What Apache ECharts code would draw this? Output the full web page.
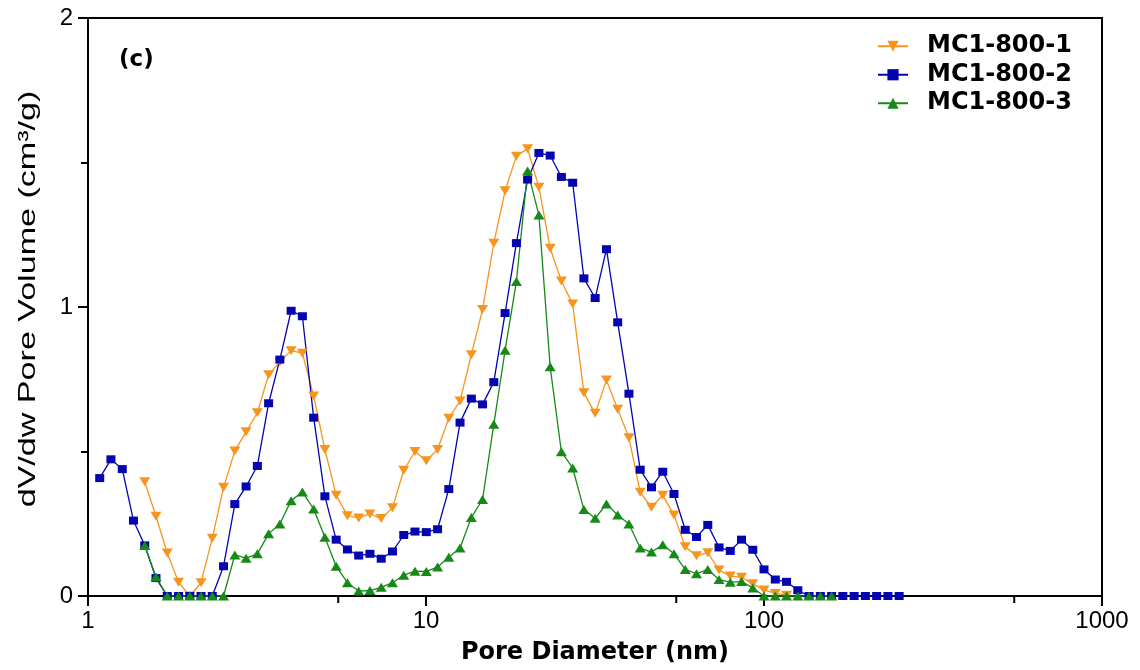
<!DOCTYPE html>
<html>
<head>
<meta charset="utf-8">
<script src="https://cdn.jsdelivr.net/npm/echarts@6/dist/echarts.min.js"></script>
<style>
  html, body { margin: 0; padding: 0; background: #fff; }
  #chart { width: 1140px; height: 670px; }
</style>
</head>
<body>
<div id="chart"></div>
<script>
// Pore diameters (nm) shared by the three samples
const diameters = [1.083, 1.169, 1.263, 1.363, 1.472, 1.589, 1.716, 1.853, 2.001, 2.160,
  2.332, 2.518, 2.719, 2.936, 3.170, 3.423, 3.695, 3.990, 4.308, 4.652,
  5.022, 5.423, 5.855, 6.322, 6.826, 7.371, 7.958, 8.593, 9.278, 10.02,
  10.82, 11.68, 12.61, 13.62, 14.70, 15.87, 17.14, 18.51, 19.98, 21.58,
  23.30, 25.15, 27.16, 29.32, 31.66, 34.19, 36.91, 39.85, 43.03, 46.46,
  50.17, 54.16, 58.48, 63.14, 68.18, 73.61, 79.48, 85.81, 92.65, 100.0,
  108.0, 116.6, 125.9, 135.9, 146.8, 158.5, 171.1, 184.8, 199.5, 215.4,
  232.6, 251.1];

// dV/dw pore volume (cm3/g); null where a sample has no point
const mc1_800_1 = [null, null, null, null, 0.395, 0.276, 0.149, 0.048, 0, 0.046,
  0.2, 0.376, 0.502, 0.568, 0.634, 0.766, 0.81, 0.849, 0.84, 0.692,
  0.507, 0.349, 0.278, 0.27, 0.284, 0.268, 0.305, 0.435, 0.5, 0.468,
  0.507, 0.615, 0.675, 0.835, 0.991, 1.221, 1.402, 1.522, 1.548, 1.414,
  1.203, 1.09, 1.01, 0.703, 0.632, 0.747, 0.646, 0.548, 0.359, 0.307,
  0.349, 0.28, 0.17, 0.139, 0.15, 0.09, 0.069, 0.065, 0.042, 0.021,
  0.009, 0.003, null, null, null, null, null, null, null, null,
  null, null];

const mc1_800_2 = [0.408, 0.473, 0.439, 0.261, 0.175, 0.062, 0, 0, 0, 0,
  0, 0.103, 0.318, 0.379, 0.45, 0.667, 0.818, 0.987, 0.968, 0.617,
  0.345, 0.195, 0.161, 0.14, 0.146, 0.129, 0.154, 0.211, 0.223, 0.221,
  0.231, 0.37, 0.6, 0.683, 0.663, 0.74, 0.979, 1.221, 1.441, 1.533,
  1.524, 1.45, 1.43, 1.099, 1.031, 1.2, 0.947, 0.7, 0.437, 0.376,
  0.43, 0.353, 0.229, 0.204, 0.246, 0.168, 0.156, 0.195, 0.16, 0.092,
  0.057, 0.049, 0.02, 0, 0, 0, 0, 0, 0, 0,
  0, 0];

const mc1_800_3 = [null, null, null, null, 0.175, 0.066, 0, 0, 0, 0,
  0, 0, 0.142, 0.131, 0.146, 0.215, 0.249, 0.33, 0.36, 0.301,
  0.203, 0.103, 0.046, 0.017, 0.019, 0.03, 0.046, 0.072, 0.086, 0.085,
  0.1, 0.134, 0.166, 0.272, 0.334, 0.594, 0.85, 1.088, 1.471, 1.318,
  0.793, 0.499, 0.443, 0.299, 0.269, 0.318, 0.28, 0.249, 0.166, 0.152,
  0.177, 0.146, 0.092, 0.077, 0.092, 0.057, 0.048, 0.05, 0.028, 0,
  0, 0, 0, 0, 0, 0, null, null, null, null,
  null, null];

const seriesNames = ['MC1-800-1', 'MC1-800-2', 'MC1-800-3'];
const xTickLabels = ['1', '10', '100', '1000'];
const xMinorTicks = [5.5, 55, 550];

const BOLD = "'DejaVu Sans', 'Liberation Sans', sans-serif";
const PLAIN = "'Liberation Sans', Arial, sans-serif";

function pairs(values) {
  const out = [];
  values.forEach((v, i) => { if (v !== null) out.push([diameters[i], v]); });
  return out;
}

function lineSeries(name, values, color, symbol, size, rotate) {
  return {
    name: name,
    type: 'line',
    data: pairs(values),
    symbol: symbol,
    symbolSize: size,
    symbolRotate: rotate,
    showAllSymbol: true,
    lineStyle: { color: color, width: 1.3 },
    itemStyle: { color: color, borderWidth: 0 },
    emphasis: { disabled: true },
    animation: false
  };
}

const chart = echarts.init(document.getElementById('chart'), null, { renderer: 'canvas' });

chart.setOption({
  backgroundColor: '#fff',
  animation: false,
  grid: {
    left: 88, right: 38, top: 18, bottom: 73,
    show: true, borderColor: '#000', borderWidth: 2, backgroundColor: 'transparent'
  },
  legend: {
    data: seriesNames,
    orient: 'vertical',
    left: 872, top: 27,
    itemWidth: 30, itemHeight: 14, itemGap: 0,
    textStyle: {
      fontFamily: BOLD, fontWeight: 'bold', fontSize: 24, color: '#000',
      lineHeight: 28.5, padding: [0, 0, 0, 14]
    }
  },
  graphic: [
    {
      type: 'text', left: 119, top: 49,
      style: { text: '(c)', font: 'bold 23px ' + BOLD, fill: '#000' }
    },
    {
      // y-axis title, drawn upright along the axis and stretched lengthwise
      type: 'text', x: 28, y: 299, rotation: Math.PI / 2, scaleX: 1.42,
      style: {
        text: 'dV/dw Pore Volume (cm³/g)', font: '24px ' + PLAIN, fill: '#000',
        textAlign: 'center', textVerticalAlign: 'middle'
      }
    }
  ],
  xAxis: {
    type: 'log', logBase: 10, min: 1, max: 1000,
    name: 'Pore Diameter (nm)', nameLocation: 'middle', nameGap: 45,
    nameTextStyle: { fontFamily: BOLD, fontWeight: 'bold', fontSize: 24, color: '#000' },
    axisLine: { show: true, lineStyle: { color: '#000', width: 2 } },
    axisTick: { show: true, inside: false, length: 10, lineStyle: { color: '#000', width: 2 } },
    axisLabel: {
      margin: 13, fontFamily: PLAIN, fontSize: 24, color: '#000',
      formatter: v => xTickLabels[Math.round(Math.log10(v))]
    },
    splitLine: { show: false }
  },
  yAxis: {
    type: 'value', min: 0, max: 2, interval: 1,
    axisLine: { show: true, lineStyle: { color: '#000', width: 2 } },
    axisTick: { show: true, inside: false, length: 10, lineStyle: { color: '#000', width: 2 } },
    minorTick: { show: true, splitNumber: 2, length: 7, lineStyle: { color: '#000', width: 2 } },
    axisLabel: { margin: 15, fontFamily: PLAIN, fontSize: 24, color: '#000' },
    splitLine: { show: false }
  },
  series: [
    lineSeries(seriesNames[0], mc1_800_1, '#F7941D', 'triangle', [11, 9], 180),
    lineSeries(seriesNames[1], mc1_800_2, '#0303B0', 'rect', [9, 8], 0),
    lineSeries(seriesNames[2], mc1_800_3, '#168A16', 'triangle', [11, 9], 0),
    {
      // minor ticks of the log axis, at the linear midpoints of each decade
      type: 'custom',
      silent: true,
      clip: false,
      data: xMinorTicks.map(v => [v, 0]),
      renderItem: (params, api) => {
        const p = api.coord([api.value(0), api.value(1)]);
        return {
          type: 'line',
          shape: { x1: p[0], y1: p[1], x2: p[0], y2: p[1] + 7 },
          style: { stroke: '#000', lineWidth: 2 }
        };
      },
      z: 5
    }
  ]
});
</script>
</body>
</html>
